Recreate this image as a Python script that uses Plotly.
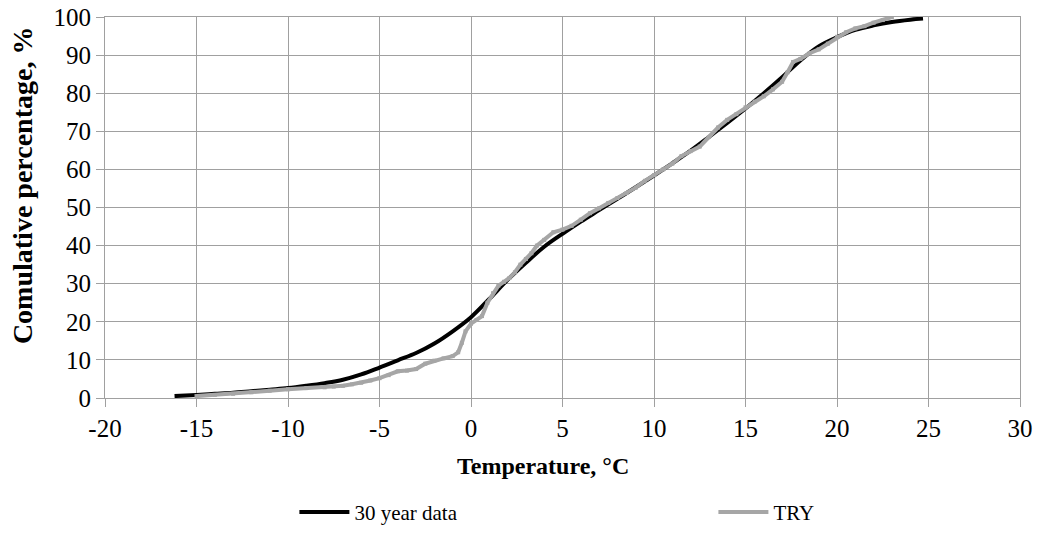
import plotly.graph_objects as go

# 30 year data
temp_30y = [-16.2, -15, -14, -13, -12, -11, -10, -9, -8, -7, -6, -5, -4, -3, -2, -1, 0,
            1, 2, 3, 4, 5, 6, 7, 8, 9, 10, 11, 12, 13, 14, 15, 16, 17, 18, 19, 20,
            21, 22, 23, 24, 24.7]
cum_30y = [0.5, 0.8, 1.1, 1.4, 1.8, 2.2, 2.6, 3.2, 3.9, 4.8, 6.2, 8.0, 9.9, 11.8, 14.3, 17.5, 21.2,
           26.0, 31.0, 35.5, 39.7, 43.1, 46.3, 49.3, 52.3, 55.3, 58.4, 61.6, 64.9, 68.5, 72.2, 76.0, 80.0, 84.2, 88.6, 92.3, 94.7,
           96.6, 97.8, 98.7, 99.3, 99.6]

# TRY
temp_try = [-15.0, -14, -13, -12, -11, -10, -9, -8, -7.5, -7, -6.5, -6, -5.5, -5, -4.5, -4, -3.5, -3,
            -2.5, -2, -1.5, -1, -0.7, -0.5, -0.3, 0, 0.3, 0.6, 0.9, 1.2, 1.5, 1.8, 2.1, 2.4, 2.7, 3.0,
            3.3, 3.6, 4.0, 4.5, 5.0, 5.5, 6.0, 6.5, 7.0, 7.5, 8.0, 8.5, 9.0, 9.5, 10, 10.5, 11, 11.5,
            12, 12.5, 13, 13.5, 14, 14.5, 15, 15.5, 16, 16.5, 17, 17.3, 17.6, 18, 18.5, 19, 19.5, 20,
            20.5, 21, 21.5, 22, 22.5, 23]
cum_try = [0.5, 0.8, 1.1, 1.5, 1.9, 2.3, 2.6, 2.8, 3.0, 3.2, 3.6, 4.0, 4.6, 5.2, 6.0, 7.0, 7.2, 7.6,
           9.0, 9.8, 10.4, 11.0, 12.0, 14.5, 17.5, 19.5, 20.5, 21.5, 25.0, 27.5, 29.5, 30.5, 31.5, 33.0, 35.0, 36.5,
           38.0, 40.0, 41.5, 43.5, 44.2, 45.2, 46.8, 48.5, 49.8, 51.2, 52.5, 53.8, 55.2, 57.0, 58.5, 60.0, 61.5, 63.5,
           64.8, 66.0, 68.5, 71.0, 73.0, 74.5, 76.3, 77.8, 79.2, 81.0, 83.0, 85.5, 88.2, 89.0, 90.5, 91.5, 93.0, 94.8,
           96.0, 97.0, 97.6, 98.5, 99.2, 100.0]

x_ticks = [-20, -15, -10, -5, 0, 5, 10, 15, 20, 25, 30]
y_ticks = [0, 10, 20, 30, 40, 50, 60, 70, 80, 90, 100]

FONT = "Liberation Serif"
GRID = "#a0a0a0"

fig = go.Figure()
fig.add_trace(go.Scatter(x=temp_30y, y=cum_30y, mode="lines", name="30 year data",
                         line=dict(color="black", width=4, shape="spline")))
fig.add_trace(go.Scatter(x=temp_try, y=cum_try, mode="lines+markers", name="TRY",
                         line=dict(color="#a6a6a6", width=4),
                         marker=dict(color="#a6a6a6", size=4, symbol="square")))

fig.update_layout(
    width=1038, height=534,
    margin=dict(l=105, r=18, t=17, b=136, autoexpand=False),
    paper_bgcolor="white", plot_bgcolor="white",
    font=dict(family=FONT, color="black", size=25),
    showlegend=True,
    legend=dict(orientation="h", x=0.207, xanchor="left", y=-0.3, yanchor="middle",
                entrywidth=354, entrywidthmode="pixels", itemwidth=50,
                font=dict(family=FONT, size=21)),
    xaxis=dict(range=[-20, 30], tickvals=x_ticks, ticktext=[str(v) for v in x_ticks],
               showgrid=True, gridcolor=GRID, gridwidth=1,
               showline=True, linecolor=GRID, linewidth=1, mirror=True,
               ticks="outside", tickcolor=GRID, ticklen=8,
               tickfont=dict(family=FONT, size=25), ticklabeloverflow="allow",
               zeroline=False),
    yaxis=dict(range=[0, 100], tickvals=y_ticks, ticktext=[str(v) for v in y_ticks],
               showgrid=True, gridcolor=GRID, gridwidth=1,
               showline=True, linecolor=GRID, linewidth=1, mirror=True,
               ticks="outside", tickcolor=GRID, ticklen=8,
               tickfont=dict(family=FONT, size=25), ticklabeloverflow="allow",
               zeroline=False),
    annotations=[
        dict(text="<b>Comulative percentage, %</b>", textangle=-90,
             xref="paper", yref="paper", x=-0.0902, y=0.56,
             xanchor="center", yanchor="middle", showarrow=False,
             font=dict(family=FONT, size=28)),
        dict(text="<b>Temperature, °C</b>",
             xref="paper", yref="paper", x=0.479, y=-0.178,
             xanchor="center", yanchor="middle", showarrow=False,
             font=dict(family=FONT, size=24)),
    ],
)

fig.write_html("out.html", config={"displayModeBar": False},
               post_script="document.body.style.margin='0px';")
